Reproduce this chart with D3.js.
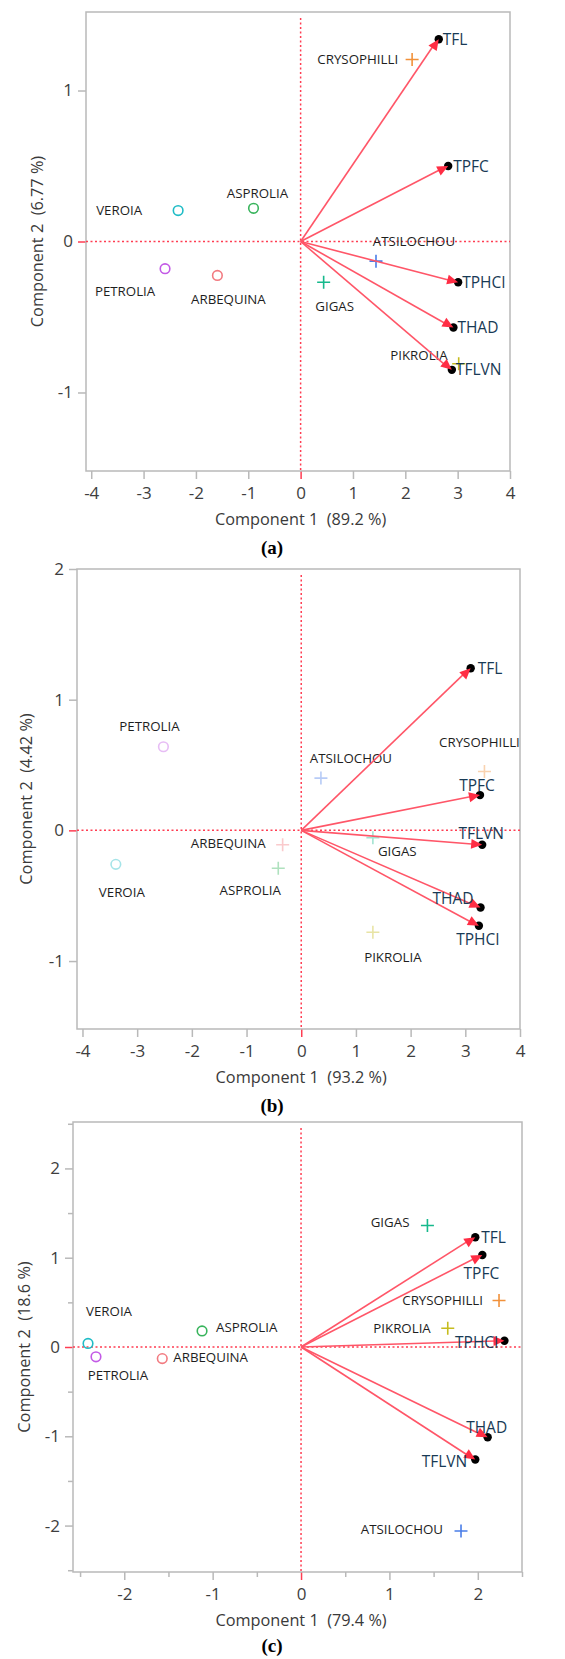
<!DOCTYPE html>
<html>
<head>
<meta charset="utf-8">
<script src="https://cdn.jsdelivr.net/npm/d3@7"></script>
<style>
  body { margin: 0; background: #fff; }
  svg text { font-family: "Open Sans", "Noto Sans", sans-serif; }
</style>
</head>
<body>
<svg id="chart" width="565" height="1659"></svg>
<script>
// cultivars (scores) and variables (loadings)
var varieties = ["VEROIA", "ASPROLIA", "PETROLIA", "ARBEQUINA", "CRYSOPHILLI", "ATSILOCHOU", "GIGAS", "PIKROLIA"];
var varietyColors = ["#1fbcc6", "#38b45c", "#c35ae6", "#f27a80", "#f1913a", "#4a7ee8", "#16b98c", "#c6bc1e"];
var variables = ["TFL", "TPFC", "TPHCI", "THAD", "TFLVN"];

// panel (a)
var pc1A = [-2.34, -0.90, -2.59, -1.59, 2.13, 1.44, 0.44, 3.02];
var pc2A = [0.205, 0.22, -0.18, -0.225, 1.205, -0.13, -0.27, -0.81];
var markA = ["o", "o", "o", "o", "+", "+", "+", "+"];
var load1A = [2.62, 2.80, 2.99, 2.90, 2.87];
var load2A = [1.34, 0.50, -0.27, -0.57, -0.85];
var varExpA = [89.2, 6.77];
var xTicksA = [-4, -3, -2, -1, 0, 1, 2, 3, 4];
var yTicksA = [-1, 0, 1];

// panel (b)
var pc1B = [-3.39, -0.42, -2.52, -0.34, 3.35, 0.36, 1.31, 1.31];
var pc2B = [-0.26, -0.29, 0.64, -0.11, 0.45, 0.40, -0.056, -0.78];
var markB = ["o", "+", "o", "+", "+", "+", "+", "+"];
var load1B = [3.08, 3.25, 3.23, 3.26, 3.29];
var load2B = [1.24, 0.27, -0.73, -0.59, -0.11];
var varExpB = [93.2, 4.42];
var xTicksB = [-4, -3, -2, -1, 0, 1, 2, 3, 4];
var yTicksB = [-1, 0, 1, 2];

// panel (c)
var pc1C = [-2.41, -1.12, -2.32, -1.57, 2.24, 1.81, 1.43, 1.66];
var pc2C = [0.04, 0.18, -0.11, -0.13, 0.52, -2.06, 1.36, 0.21];
var markC = ["o", "o", "o", "o", "+", "+", "+", "+"];
var load1C = [1.96, 2.04, 2.29, 2.10, 1.96];
var load2C = [1.23, 1.03, 0.07, -1.01, -1.26];
var varExpC = [79.4, 18.6];
var xTicksC = [-2, -1, 0, 1, 2];
var yTicksC = [-2, -1, 0, 1, 2];
var xMinorC = [-2.5, -1.5, -0.5, 0.5, 1.5, 2.5];
var yMinorC = [-2.5, -1.5, -0.5, 0.5, 1.5, 2.5];

// layout: frame box, domains and label placement [dx, dy, anchor]
var panels = [
  {
    tag: "(a)", box: [86, 12, 510, 471], xDom: [-4.1, 4.0], yDom: [-1.52, 1.52],
    pc1: pc1A, pc2: pc2A, mark: markA, l1: load1A, l2: load2A, vexp: varExpA,
    xt: xTicksA, yt: yTicksA, xm: [], ym: [], fade: 1, yTitleX: 37, tagY: 547,
    ptLab: [[-36, 0, "end"], [4, -15, "middle"], [-40, 23, "middle"], [11, 24, "middle"],
            [-14, 0, "end"], [38, -20, "middle"], [11, 24, "middle"], [-11, -9, "end"]],
    vLab: [[5, 0, "start"], [6, 0, "start"], [5, 0, "start"], [5, 0, "start"], [5, 0, "start"]]
  },
  {
    tag: "(b)", box: [77, 569, 520, 1029], xDom: [-4.1, 4.0], yDom: [-1.52, 2.0],
    pc1: pc1B, pc2: pc2B, mark: markB, l1: load1B, l2: load2B, vexp: varExpB,
    xt: xTicksB, yt: yTicksB, xm: [], ym: [], fade: 0.4, yTitleX: 26, tagY: 1105,
    ptLab: [[6, 28, "middle"], [-28, 22, "middle"], [-14, -21, "middle"], [-17, -2, "end"],
            [-5, -29, "middle"], [30, -20, "middle"], [5, 14, "start"], [20, 25, "middle"]],
    vLab: [[8, 0, "start"], [-2, -10, "middle"], [0, 14, "middle"], [-6, -9, "end"], [0, -11, "middle"]]
  },
  {
    tag: "(c)", box: [73, 1122, 522, 1572], xDom: [-2.58, 2.5], yDom: [-2.52, 2.52],
    pc1: pc1C, pc2: pc2C, mark: markC, l1: load1C, l2: load2C, vexp: varExpC,
    xt: xTicksC, yt: yTicksC, xm: xMinorC, ym: yMinorC, fade: 1, yTitleX: 24, tagY: 1645,
    ptLab: [[21, -32, "middle"], [14, -4, "start"], [22, 18, "middle"], [11, -1, "start"],
            [-16, 0, "end"], [-18, -2, "end"], [-18, -3, "end"], [-17, 0, "end"]],
    vLab: [[7, 0, "start"], [0, 18, "middle"], [-5, 2, "end"], [0, -10, "middle"], [-7, 2, "end"]]
  }
];

var frameColor = "#b9b9b9",
    zeroColor = "#ff3d52",
    arrowColor = "#ff5668",
    labelColor = "#1e1e1e",
    varLabelColor = "#183a55",
    tickColor = "#3e3e3e";

var svg = d3.select("#chart");

var drawPanel = function(p) {
    var left = p.box[0], top = p.box[1], right = p.box[2], bottom = p.box[3];
    var x = d3.scaleLinear().domain(p.xDom).range([left, right]);
    var y = d3.scaleLinear().domain(p.yDom).range([bottom, top]);
    var g = svg.append("g");

    // axes
    g.append("g")
      .attr("transform", "translate(0," + bottom + ")")
      .call(d3.axisBottom(x).tickValues(p.xt).tickSize(8).tickSizeOuter(0).tickPadding(8)
            .tickFormat(function(d) { return d; }));
    g.append("g")
      .attr("transform", "translate(" + left + ",0)")
      .call(d3.axisLeft(y).tickValues(p.yt).tickSize(8).tickSizeOuter(0).tickPadding(5)
            .tickFormat(function(d) { return d; }));
    if (p.xm.length) {
        g.append("g")
          .attr("transform", "translate(0," + bottom + ")")
          .call(d3.axisBottom(x).tickValues(p.xm).tickSize(5).tickSizeOuter(0).tickFormat(""));
        g.append("g")
          .attr("transform", "translate(" + left + ",0)")
          .call(d3.axisLeft(y).tickValues(p.ym).tickSize(5).tickSizeOuter(0).tickFormat(""));
    }
    g.selectAll(".domain").remove();
    g.selectAll(".tick line").attr("stroke", frameColor).attr("stroke-width", 1.5);
    g.selectAll(".tick line").filter(function(d) { return d === 0; }).attr("stroke", zeroColor);
    g.selectAll(".tick text").attr("fill", tickColor).style("font-size", "17px");

    // frame
    g.append("rect")
      .attr("x", left).attr("y", top)
      .attr("width", right - left).attr("height", bottom - top)
      .attr("fill", "none").attr("stroke", frameColor).attr("stroke-width", 1.5);

    // zero reference lines
    g.append("line")
      .attr("x1", left).attr("x2", right).attr("y1", y(0)).attr("y2", y(0))
      .attr("stroke", zeroColor).attr("stroke-width", 1.5).attr("stroke-dasharray", "2,2.5");
    g.append("line")
      .attr("x1", x(0)).attr("x2", x(0)).attr("y1", top + 6).attr("y2", bottom)
      .attr("stroke", zeroColor).attr("stroke-width", 1.5).attr("stroke-dasharray", "2,2.5");

    // axis titles
    g.append("text")
      .attr("x", x(0)).attr("y", bottom + 48).attr("dy", "0.35em")
      .attr("text-anchor", "middle").attr("fill", "#3a3a3a")
      .style("font-size", "16.3px").style("white-space", "pre")
      .text("Component 1  (" + p.vexp[0] + " %)");
    g.append("text")
      .attr("transform", "translate(" + p.yTitleX + "," + ((top + bottom) / 2) + ") rotate(-90)")
      .attr("text-anchor", "middle").attr("dy", "0.35em").attr("fill", "#3a3a3a")
      .style("font-size", "16.3px").style("white-space", "pre")
      .text("Component 2  (" + p.vexp[1] + " %)");

    // panel tag
    g.append("text")
      .attr("x", 272).attr("y", p.tagY).attr("dy", "0.35em")
      .attr("text-anchor", "middle")
      .style("font-family", "'Liberation Serif', 'DejaVu Serif', serif")
      .style("font-weight", "bold").style("font-size", "19px")
      .text(p.tag);

    // cultivar scores
    var pts = g.selectAll(".pt")
      .data(varieties.map(function(name, i) {
          return {name: name, c: varietyColors[i], m: p.mark[i], x: p.pc1[i], y: p.pc2[i], lab: p.ptLab[i]};
      }))
      .enter().append("g")
      .attr("class", "pt")
      .attr("transform", function(d) { return "translate(" + x(d.x) + "," + y(d.y) + ")"; });

    pts.filter(function(d) { return d.m === "o"; })
      .append("circle")
      .attr("r", 4.8)
      .attr("fill", "none")
      .attr("stroke", function(d) { return d.c; })
      .attr("stroke-opacity", p.fade)
      .attr("stroke-width", 1.6);

    pts.filter(function(d) { return d.m === "+"; })
      .append("path")
      .attr("d", "M-6.5,0H6.5M0,-6.5V6.5")
      .attr("stroke", function(d) { return d.c; })
      .attr("stroke-opacity", p.fade)
      .attr("stroke-width", 1.6);

    pts.append("text")
      .attr("x", function(d) { return d.lab[0]; })
      .attr("y", function(d) { return d.lab[1]; })
      .attr("dy", "0.36em")
      .attr("text-anchor", function(d) { return d.lab[2]; })
      .attr("fill", labelColor)
      .style("font-size", "13.3px")
      .text(function(d) { return d.name; });

    // variable loadings as arrows
    var arr = g.selectAll(".arr")
      .data(variables.map(function(name, i) {
          return {name: name, x: p.l1[i], y: p.l2[i], lab: p.vLab[i]};
      }))
      .enter().append("g")
      .attr("class", "arr");

    arr.append("line")
      .attr("x1", x(0)).attr("y1", y(0))
      .attr("x2", function(d) { return x(d.x); })
      .attr("y2", function(d) { return y(d.y); })
      .attr("stroke", arrowColor).attr("stroke-width", 1.6);

    arr.append("circle")
      .attr("cx", function(d) { return x(d.x) + 1; })
      .attr("cy", function(d) { return y(d.y); })
      .attr("r", 4.2)
      .attr("fill", "#000");

    arr.append("path")
      .attr("transform", function(d) {
          var a = Math.atan2(y(d.y) - y(0), x(d.x) - x(0)) * 180 / Math.PI;
          return "translate(" + (x(d.x) + 1) + "," + y(d.y) + ") rotate(" + a + ")";
      })
      .attr("d", "M0,0L-11,-5L-11,5Z")
      .attr("fill", "#ff2d44");

    arr.append("text")
      .attr("x", function(d) { return x(d.x) + d.lab[0]; })
      .attr("y", function(d) { return y(d.y) + d.lab[1]; })
      .attr("dy", "0.36em")
      .attr("text-anchor", function(d) { return d.lab[2]; })
      .attr("fill", varLabelColor)
      .style("font-size", "15.5px")
      .text(function(d) { return d.name; });
};

panels.forEach(drawPanel);
</script>
</body>
</html>
